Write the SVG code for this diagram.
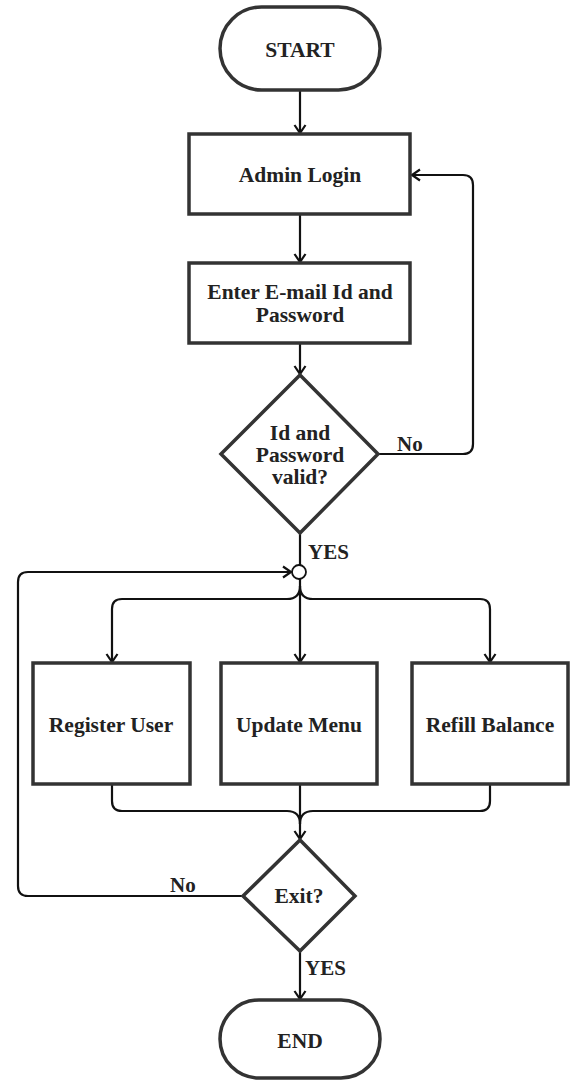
<svg xmlns="http://www.w3.org/2000/svg" width="571" height="1083" viewBox="0 0 571 1083">
<style>
.n{fill:#fff;stroke:#333;stroke-width:3.5}
.t{font-family:"Liberation Serif","Times New Roman",serif;font-weight:bold;font-size:21.5px;fill:#222;text-anchor:middle}
.l{font-family:"Liberation Serif","Times New Roman",serif;font-weight:bold;font-size:21px;fill:#222}
.c{fill:none;stroke:#111;stroke-width:2.2}
</style>
<defs>
<marker id="a" markerUnits="userSpaceOnUse" markerWidth="14" markerHeight="14" refX="10" refY="7" orient="auto">
<path d="M2,1.5 L10,7 L2,12.5" fill="none" stroke="#111" stroke-width="2.2"/>
</marker>
</defs>
<rect width="571" height="1083" fill="#fff"/>
<g id="connectors">
<path class="c" d="M300,90 L300,133" marker-end="url(#a)"/>
<path class="c" d="M300,214 L300,262" marker-end="url(#a)"/>
<path class="c" d="M300,343 L300,374" marker-end="url(#a)"/>
<path class="c" d="M378,454 L463,454 Q473,454 473,444 L473,185 Q473,175 463,175 L412,175" marker-end="url(#a)"/>
<path class="c" d="M300,533 L300,565"/>
<path class="c" d="M243,896 L28,896 Q18,896 18,886 L18,582 Q18,572 28,572 L291,572" marker-end="url(#a)"/>
<path class="c" d="M300,579 L300,662" marker-end="url(#a)"/>
<path class="c" d="M300,586 Q300,599 287,599 L122,599 Q112,599 112,609 L112,662" marker-end="url(#a)"/>
<path class="c" d="M300,586 Q300,599 313,599 L480,599 Q490,599 490,609 L490,662" marker-end="url(#a)"/>
<path class="c" d="M112,784 L112,801 Q112,811 122,811 L287,811 Q300,811 300,824"/>
<path class="c" d="M490,784 L490,801 Q490,811 480,811 L313,811 Q300,811 300,824"/>
<path class="c" d="M300,784 L300,839" marker-end="url(#a)"/>
<path class="c" d="M300,951 L300,999" marker-end="url(#a)"/>
</g>
<g id="start">
<rect class="n" x="220" y="7" width="160" height="83" rx="41.5"/>
<text class="t" x="300" y="57">START</text>
</g>
<g id="admin-login">
<rect class="n" x="189" y="134" width="221" height="80"/>
<text class="t" x="300" y="182">Admin Login</text>
</g>
<g id="enter-credentials">
<rect class="n" x="189" y="263" width="221" height="80"/>
<text class="t" x="300" y="299">Enter E-mail Id and</text>
<text class="t" x="300" y="322">Password</text>
</g>
<g id="valid-decision">
<polygon class="n" points="300,375 378,454 300,533 221,454"/>
<text class="t" x="300" y="440">Id and</text>
<text class="t" x="300" y="462">Password</text>
<text class="t" x="300" y="484">valid?</text>
</g>
<g id="label-no-top"><text class="l" x="397" y="451">No</text></g>
<g id="label-yes-top"><text class="l" x="308" y="559">YES</text></g>
<g id="junction">
<circle cx="299" cy="572" r="7" fill="#fff" stroke="#111" stroke-width="1.8"/>
</g>
<g id="register-user">
<rect class="n" x="33" y="663" width="157" height="121"/>
<text class="t" x="111" y="732">Register User</text>
</g>
<g id="update-menu">
<rect class="n" x="221" y="663" width="156" height="121"/>
<text class="t" x="299" y="732">Update Menu</text>
</g>
<g id="refill-balance">
<rect class="n" x="412" y="663" width="156" height="121"/>
<text class="t" x="490" y="732">Refill Balance</text>
</g>
<g id="exit-decision">
<polygon class="n" points="300,840 355,896 300,951 243,896"/>
<text class="t" x="299" y="903">Exit?</text>
</g>
<g id="label-no-bottom"><text class="l" x="170" y="892">No</text></g>
<g id="label-yes-bottom"><text class="l" x="305" y="975">YES</text></g>
<g id="end">
<rect class="n" x="220" y="1000" width="160" height="78" rx="39"/>
<text class="t" x="300" y="1048">END</text>
</g>
</svg>
